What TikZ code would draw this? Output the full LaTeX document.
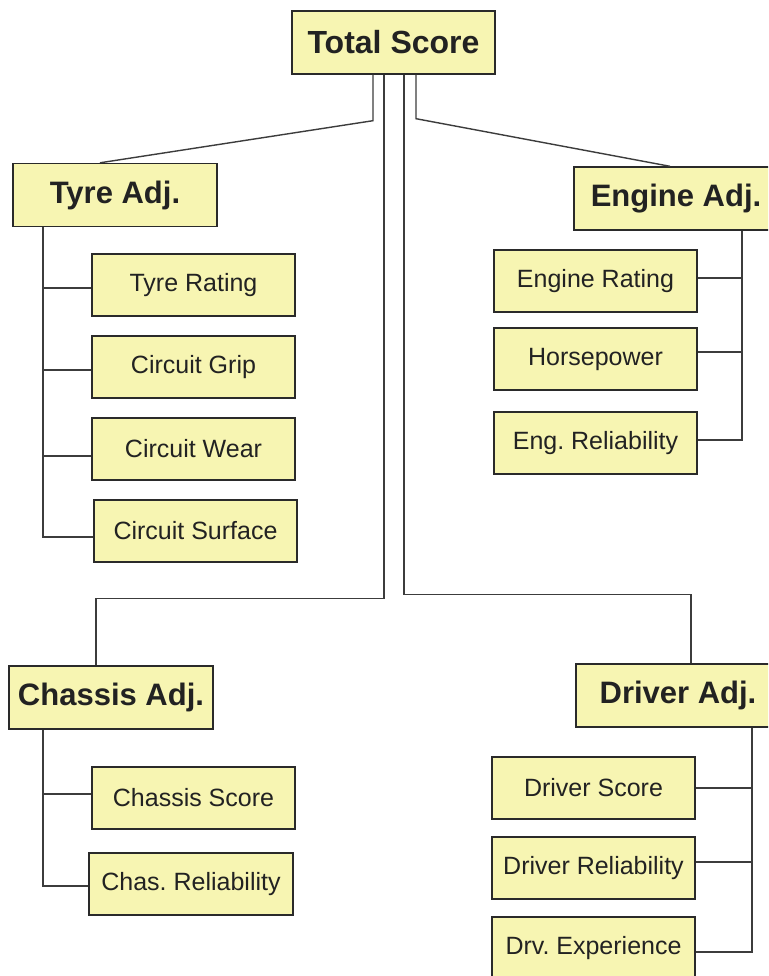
\documentclass[tikz,border=0pt]{standalone}
\usepackage{fontspec}
\setmainfont{Liberation Sans}
\usetikzlibrary{calc}
\definecolor{boxfill}{HTML}{F7F5B2}
\definecolor{boxline}{HTML}{2A2A2A}
\definecolor{wire}{HTML}{3C3C3C}
\definecolor{ink}{HTML}{222222}
\tikzset{
  base/.style={draw=boxline, fill=boxfill, line width=1.4pt, text=ink,
    inner sep=0pt, anchor=center},
  rootbox/.style={base, minimum width=203pt, minimum height=63pt,
    font=\fontsize{32}{36}\selectfont\bfseries\frenchspacing},
  groupbox/.style={base, minimum width=204pt, minimum height=63pt,
    font=\fontsize{31}{35}\selectfont\bfseries\frenchspacing},
  leafbox/.style={base, minimum width=203pt, minimum height=62pt,
    font=\fontsize{25}{30}\selectfont\frenchspacing},
  link/.style={draw=wire, line width=1.4pt}
}
\begin{document}
\begin{tikzpicture}[x=1pt, y=-1pt]
\useasboundingbox (0,0) rectangle (768,976);
\fill[white] (0,0) rectangle (768,976);
\clip (0,0) rectangle (768,976);

% root and group headings
\node[rootbox]  (total)   at (393.5,42.5) {Total Score};
\node[groupbox] (tyre)    at (115,195)    {Tyre Adj.};
\node[groupbox] (engine)  at (676,198.5)  {Engine Adj.};
\node[groupbox] (chassis) at (111,697.5)  {Chassis Adj.};
\node[groupbox] (driver)  at (678,695.5)  {Driver Adj.};

% tyre factors
\node[leafbox] (tyreR)   at (193.5,285) {Tyre Rating};
\node[leafbox] (grip)    at (193.5,367) {Circuit Grip};
\node[leafbox] (wear)    at (193.5,449) {Circuit Wear};
\node[leafbox] (surface) at (195.5,531) {Circuit Surface};

% engine factors
\node[leafbox] (engR)   at (595.5,281) {Engine Rating};
\node[leafbox] (hp)     at (595.5,359) {Horsepower};
\node[leafbox] (engRel) at (595.5,443) {Eng. Reliability};

% chassis factors
\node[leafbox] (chS) at (193.5,798) {Chassis Score};
\node[leafbox, minimum width=204pt] (chR) at (191,884) {Chas. Reliability};

% driver factors
\node[leafbox] (drS) at (593.5,788)   {Driver Score};
\node[leafbox] (drR) at (593.5,868) {Driver Reliability};
\node[leafbox] (drE) at (593.5,948)   {Drv. Experience};

% root to group headings
\draw[link] ([xshift=-20.5pt]total.south) -- ++(0,46) -- ([xshift=-15pt]tyre.north);
\draw[link] ([xshift=22.5pt]total.south) -- ++(0,44) -- ([xshift=-6pt]engine.north);
\draw[link] ([xshift=-9.5pt]total.south) -- ++(0,524) -| ([xshift=-15pt]chassis.north);
\draw[link] ([xshift=10.5pt]total.south) -- ++(0,520) -| ([xshift=13pt]driver.north);

% tyre bus
\coordinate (tbus) at ([xshift=-72pt]tyre.south);
\coordinate (t1) at ([yshift=-3pt]tyreR.west);
\coordinate (t2) at ([yshift=-3pt]grip.west);
\coordinate (t3) at ([yshift=-7pt]wear.west);
\coordinate (t4) at ([yshift=-6pt]surface.west);
\draw[link] (tbus) |- (t4);
\draw[link] (t1) -- (t1 -| tbus);
\draw[link] (t2) -- (t2 -| tbus);
\draw[link] (t3) -- (t3 -| tbus);

% engine bus
\coordinate (ebus) at ([xshift=66pt]engine.south);
\coordinate (e1) at ([yshift=3pt]engR.east);
\coordinate (e2) at ([yshift=7pt]hp.east);
\coordinate (e3) at ([yshift=3pt]engRel.east);
\draw[link] (ebus) |- (e3);
\draw[link] (e1) -- (e1 -| ebus);
\draw[link] (e2) -- (e2 -| ebus);

% chassis bus
\coordinate (cbus) at ([xshift=-68pt]chassis.south);
\coordinate (c1) at ([yshift=4pt]chS.west);
\coordinate (c2) at ([yshift=-2pt]chR.west);
\draw[link] (cbus) |- (c2);
\draw[link] (c1) -- (c1 -| cbus);

% driver bus
\coordinate (dbus) at ([xshift=74pt]driver.south);
\coordinate (d1) at (drS.east);
\coordinate (d2) at ([yshift=6pt]drR.east);
\coordinate (d3) at ([yshift=-4pt]drE.east);
\draw[link] (dbus) |- (d3);
\draw[link] (d1) -- (d1 -| dbus);
\draw[link] (d2) -- (d2 -| dbus);
\end{tikzpicture}
\end{document}
